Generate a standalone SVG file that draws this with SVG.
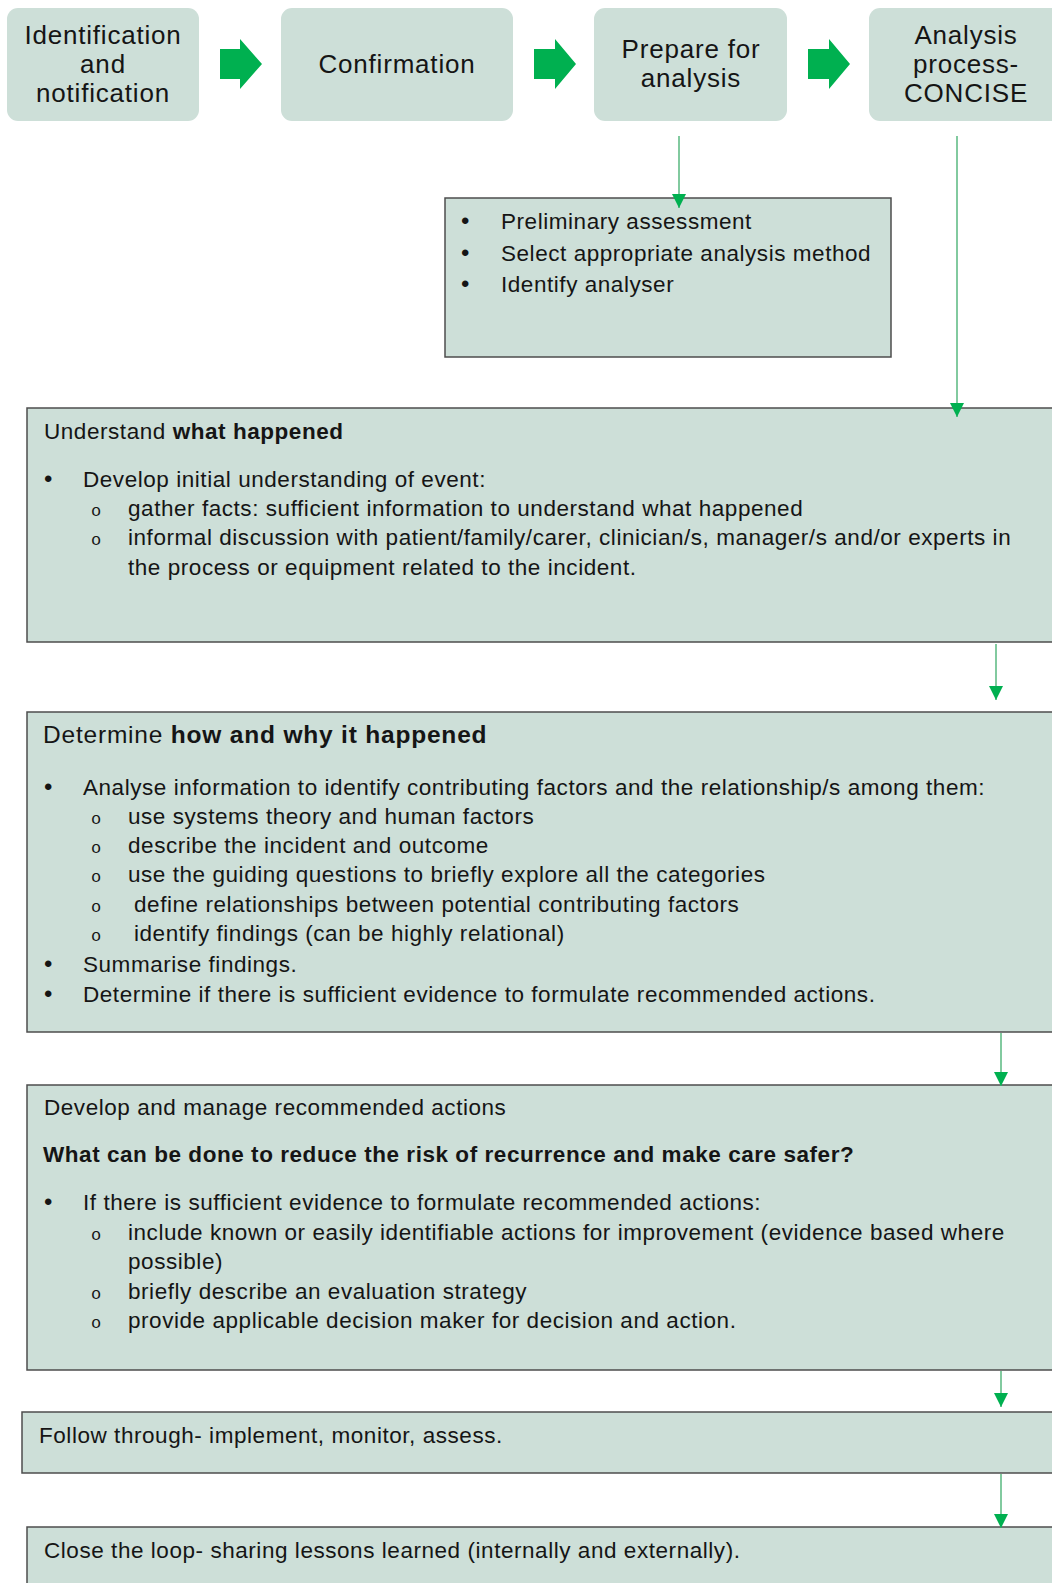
<svg xmlns="http://www.w3.org/2000/svg" width="1052" height="1583" viewBox="0 0 1052 1583">
<defs>
<style>
.tb { fill:#cddfd8; }
.box { fill:#cddfd8; stroke:#4d4d4d; stroke-width:1.5; }
.big { font-family:"Liberation Sans", Arial, sans-serif; font-size:26px; letter-spacing:0.8px; fill:#151515; text-anchor:middle; }
.t { font-family:"Liberation Sans", Arial, sans-serif; font-size:22.5px; letter-spacing:0.55px; fill:#151515; }
.h24 { font-size:24.5px; letter-spacing:0.8px; }
.b { font-weight:bold; }
.dot { font-family:"Liberation Sans", Arial, sans-serif; font-size:24px; fill:#151515; }
.sub { font-family:"Liberation Mono", "Courier New", monospace; font-size:17px; fill:#151515; }
.blk { fill:#00b050; }
.conn { stroke:#3fae6c; stroke-width:1.3; fill:none; marker-end:url(#ah); }
</style>
<marker id="ah" markerUnits="userSpaceOnUse" viewBox="0 -7 14 14" refX="14" refY="0" markerWidth="14" markerHeight="14" orient="auto">
<path d="M0,-7 L14,0 L0,7 z" fill="#00b050"/>
</marker>
</defs>
<rect width="1052" height="1583" fill="#ffffff"/>

<g id="node-identification">
<rect class="tb" x="7" y="8" width="192" height="113" rx="11"/>
<text class="big" x="103" y="44">Identification</text>
<text class="big" x="103" y="73">and</text>
<text class="big" x="103" y="102">notification</text>
</g>
<g id="node-confirmation">
<rect class="tb" x="281" y="8" width="232" height="113" rx="11"/>
<text class="big" x="397" y="73">Confirmation</text>
</g>
<g id="node-prepare">
<rect class="tb" x="594" y="8" width="193" height="113" rx="11"/>
<text class="big" x="691" y="58">Prepare for</text>
<text class="big" x="691" y="87">analysis</text>
</g>
<g id="node-analysis">
<rect class="tb" x="869" y="8" width="194" height="113" rx="11"/>
<text class="big" x="966" y="44">Analysis</text>
<text class="big" x="966" y="73">process-</text>
<text class="big" x="966" y="102">CONCISE</text>
</g>

<g id="node-preliminary">
<rect class="box" x="445" y="198" width="446" height="159"/>
<text class="dot" x="461" y="229">•</text>
<text class="t" x="501" y="229">Preliminary assessment</text>
<text class="dot" x="461" y="261">•</text>
<text class="t" x="501" y="261">Select appropriate analysis method</text>
<text class="dot" x="461" y="292">•</text>
<text class="t" x="501" y="292">Identify analyser</text>
</g>

<g id="node-understand">
<rect class="box" x="27" y="408" width="1045" height="234"/>
<text class="t" x="44" y="439">Understand <tspan class="b">what happened</tspan></text>
<text class="dot" x="44" y="487">•</text>
<text class="t" x="83" y="487">Develop initial understanding of event:</text>
<text class="sub" x="91" y="516">o</text>
<text class="t" x="128" y="516">gather facts: sufficient information to understand what happened</text>
<text class="sub" x="91" y="545">o</text>
<text class="t" x="128" y="545">informal discussion with patient/family/carer, clinician/s, manager/s and/or experts in</text>
<text class="t" x="128" y="575">the process or equipment related to the incident.</text>
</g>

<g id="node-determine">
<rect class="box" x="27" y="712" width="1045" height="320"/>
<text class="t h24" x="43" y="743">Determine <tspan class="b">how and why it happened</tspan></text>
<text class="dot" x="44" y="795">•</text>
<text class="t" x="83" y="795">Analyse information to identify contributing factors and the relationship/s among them:</text>
<text class="sub" x="91" y="824">o</text>
<text class="t" x="128" y="824">use systems theory and human factors</text>
<text class="sub" x="91" y="853">o</text>
<text class="t" x="128" y="853">describe the incident and outcome</text>
<text class="sub" x="91" y="882">o</text>
<text class="t" x="128" y="882">use the guiding questions to briefly explore all the categories</text>
<text class="sub" x="91" y="912">o</text>
<text class="t" x="134" y="912">define relationships between potential contributing factors</text>
<text class="sub" x="91" y="941">o</text>
<text class="t" x="134" y="941">identify findings (can be highly relational)</text>
<text class="dot" x="44" y="972">•</text>
<text class="t" x="83" y="972">Summarise findings.</text>
<text class="dot" x="44" y="1002">•</text>
<text class="t" x="83" y="1002">Determine if there is sufficient evidence to formulate recommended actions.</text>
</g>

<g id="node-develop">
<rect class="box" x="27" y="1085" width="1045" height="285"/>
<text class="t" x="44" y="1115">Develop and manage recommended actions</text>
<text class="t b" x="43" y="1162">What can be done to reduce the risk of recurrence and make care safer?</text>
<text class="dot" x="44" y="1210">•</text>
<text class="t" x="83" y="1210">If there is sufficient evidence to formulate recommended actions:</text>
<text class="sub" x="91" y="1240">o</text>
<text class="t" x="128" y="1240">include known or easily identifiable actions for improvement (evidence based where</text>
<text class="t" x="128" y="1269">possible)</text>
<text class="sub" x="91" y="1299">o</text>
<text class="t" x="128" y="1299">briefly describe an evaluation strategy</text>
<text class="sub" x="91" y="1328">o</text>
<text class="t" x="128" y="1328">provide applicable decision maker for decision and action.</text>
</g>

<g id="node-follow">
<rect class="box" x="22" y="1412" width="1050" height="61"/>
<text class="t" x="39" y="1443">Follow through- implement, monitor, assess.</text>
</g>

<g id="node-close">
<rect class="box" x="27" y="1527" width="1045" height="80"/>
<text class="t" x="44" y="1558">Close the loop- sharing lessons learned (internally and externally).</text>
</g>

<g id="connectors">
<polygon class="blk" points="220,49 240,49 240,39 262,64 240,89 240,79 220,79"/>
<polygon class="blk" points="534,49 555,49 555,39 576,64 555,89 555,79 534,79"/>
<polygon class="blk" points="808,49 829,49 829,39 850,64 829,89 829,79 808,79"/>
<line class="conn" x1="679" y1="136" x2="679" y2="208"/>
<line class="conn" x1="957" y1="136" x2="957" y2="417"/>
<line class="conn" x1="996" y1="644" x2="996" y2="700"/>
<line class="conn" x1="1001" y1="1033" x2="1001" y2="1086"/>
<line class="conn" x1="1001" y1="1371" x2="1001" y2="1407"/>
<line class="conn" x1="1001" y1="1474" x2="1001" y2="1528"/>
</g>
</svg>
